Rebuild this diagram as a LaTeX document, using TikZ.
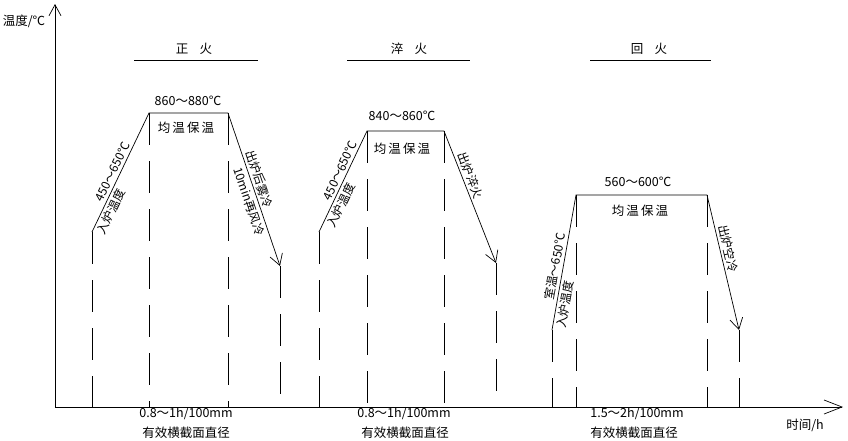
\documentclass[tikz,border=0pt]{standalone}
\usepackage{fontspec}
\setmainfont{Noto Sans CJK SC}
\usetikzlibrary{arrows.meta}
\begin{document}
\begin{tikzpicture}[x=1pt,y=-1pt,line width=0.7pt,
  every node/.style={font=\fontsize{12.5}{14}\selectfont,inner sep=1.5pt},
  dline/.style={dash pattern=on 32pt off 16pt},
  tip/.style={-{Straight Barb[length=11pt,width=13pt]}},
  lbl/.style={sloped,inner sep=2.5pt,font=\fontsize{12}{13}\selectfont}]
\useasboundingbox (0,0) rectangle (848,440);
% axes
\coordinate (O) at (55,407);
\coordinate (Ytop) at (55,4);
\coordinate (Xend) at (843,407);
\draw[-{Straight Barb[length=11pt,width=12pt]}] (O) -- (Ytop);
\draw[-{Straight Barb[length=18pt,width=14pt]}] (O) -- (Xend);
\node (ylab) at (24,21) {温度/℃};
\node (xlab) at (805,425) {时间/h};

% ---- section 1: 正火
\coordinate (s1) at (92,232);
\coordinate (p1l) at (149,113);
\coordinate (p1r) at (228,113);
\coordinate (e1) at (280,266);
\draw (s1) -- node[lbl,above,pos=0.48]{450～650℃} node[lbl,below,pos=0.2]{入炉温度} (p1l) -- (p1r);
\draw[tip] (p1r) -- node[lbl,above,pos=0.45]{出炉后雾冷} node[lbl,below,pos=0.56]{10min再风冷} (e1);
\foreach \c in {s1,p1l,p1r,e1} \draw[dline] (\c) -- (\c |- O);
\node (t1) at (194,49) {正\hspace{0.9em}火};
\coordinate (u1a) at (134,60); \coordinate (u1b) at (258,60);
\draw (u1a) -- (u1b);
\node (h1) at (188,101) {860～880℃};
\node (k1) at (186,128) {均\,温\,保\,温};
\node (b1) at (186,414) {0.8～1h/100mm};
\node (d1) at (186,433) {有效横截面直径};

% ---- section 2: 淬火
\coordinate (s2) at (319,232);
\coordinate (p2l) at (367,131);
\coordinate (p2r) at (444,131);
\coordinate (e2) at (496,263);
\draw (s2) -- node[lbl,above,pos=0.58]{450～650℃} node[lbl,below,pos=0.3]{入炉温度} (p2l) -- (p2r);
\draw[tip] (p2r) -- node[lbl,above,pos=0.36]{出炉淬火} (e2);
\foreach \c in {s2,p2l,p2r,e2} \draw[dline] (\c) -- (\c |- O);
\node (t2) at (409,49) {淬\hspace{0.9em}火};
\coordinate (u2a) at (347,60); \coordinate (u2b) at (470,60);
\draw (u2a) -- (u2b);
\node (h2) at (402,116) {840～860℃};
\node (k2) at (402,149) {均\,温\,保\,温};
\node (b2) at (404,414) {0.8～1h/100mm};
\node (d2) at (405,433) {有效横截面直径};

% ---- section 3: 回火
\coordinate (s3) at (552,330);
\coordinate (p3l) at (576,195);
\coordinate (p3r) at (707,195);
\coordinate (e3) at (739,330);
\draw (s3) -- node[lbl,above,pos=0.46]{室温～650℃} node[lbl,below,pos=0.2]{入炉温度} (p3l) -- (p3r);
\draw[tip] (p3r) -- node[lbl,above,pos=0.41]{出炉空冷} (e3);
\foreach \c in {s3,p3l,p3r,e3} \draw[dline] (\c) -- (\c |- O);
\node (t3) at (649,49) {回\hspace{0.9em}火};
\coordinate (u3a) at (590,60); \coordinate (u3b) at (711,60);
\draw (u3a) -- (u3b);
\node (h3) at (638,182) {560～600℃};
\node (k3) at (640,211) {均\,温\,保\,温};
\node (b3) at (637,414) {1.5～2h/100mm};
\node (d3) at (634,433) {有效横截面直径};
\end{tikzpicture}
\end{document}
